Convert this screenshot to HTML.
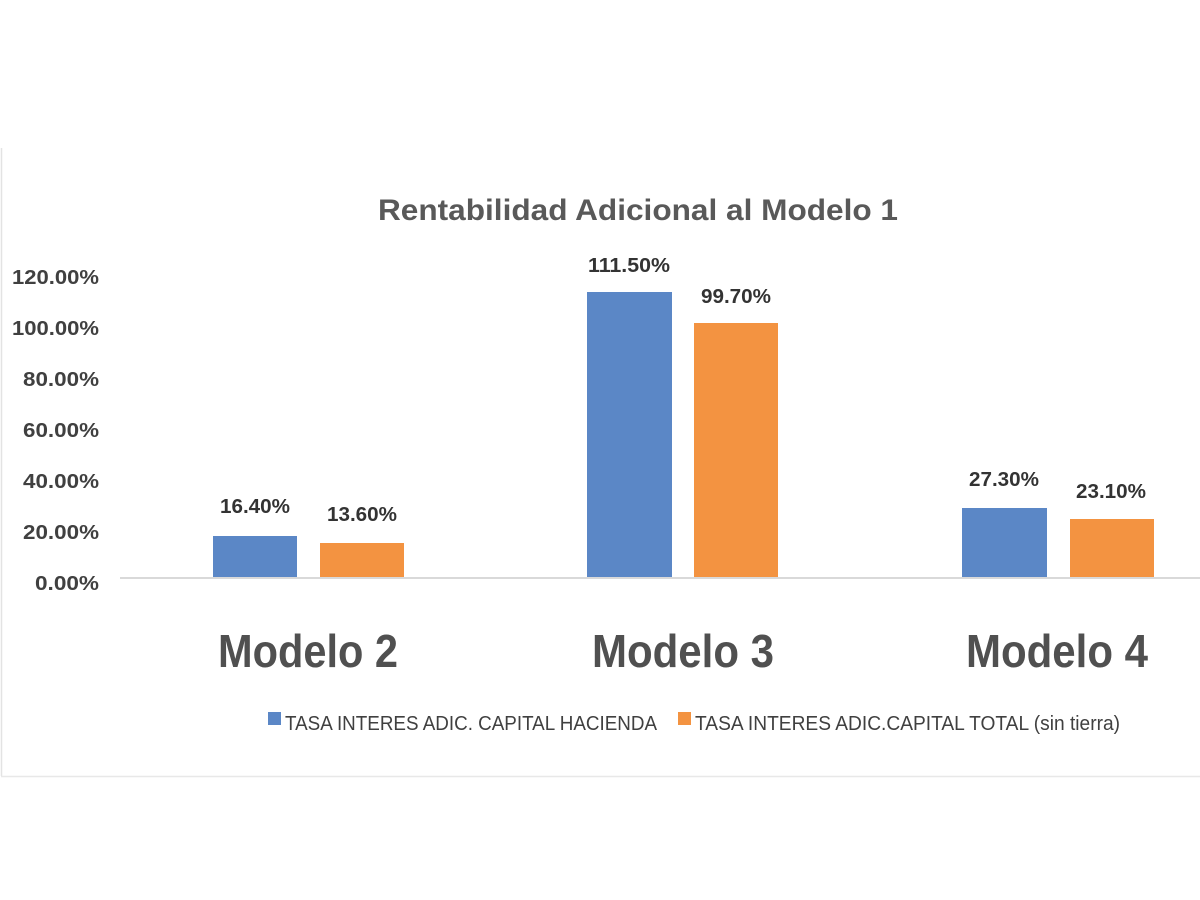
<!DOCTYPE html>
<html><head><meta charset="utf-8"><style>
html,body{margin:0;padding:0;background:#fff;}
svg{display:block;font-family:"Liberation Sans",sans-serif;}
</style></head><body>
<svg width="1200" height="900" viewBox="0 0 1200 900">
<line x1="1.5" y1="148" x2="1.5" y2="776" stroke="#e3e3e3" stroke-width="1.5"/>
<line x1="1" y1="776.5" x2="1200" y2="776.5" stroke="#e8e8e8" stroke-width="1.5"/>
<text x="638" y="220" text-anchor="middle" font-size="30" font-weight="bold" fill="#595959" textLength="520" lengthAdjust="spacingAndGlyphs">Rentabilidad Adicional al Modelo 1</text>
<g font-size="20" font-weight="bold" fill="#404040" text-anchor="end">
<text x="99" y="284" textLength="87" lengthAdjust="spacingAndGlyphs">120.00%</text>
<text x="99" y="335" textLength="87" lengthAdjust="spacingAndGlyphs">100.00%</text>
<text x="99" y="386" textLength="76" lengthAdjust="spacingAndGlyphs">80.00%</text>
<text x="99" y="437" textLength="76" lengthAdjust="spacingAndGlyphs">60.00%</text>
<text x="99" y="488" textLength="76" lengthAdjust="spacingAndGlyphs">40.00%</text>
<text x="99" y="539" textLength="76" lengthAdjust="spacingAndGlyphs">20.00%</text>
<text x="99" y="590" textLength="64" lengthAdjust="spacingAndGlyphs">0.00%</text>
</g>
<line x1="120" y1="578" x2="1200" y2="578" stroke="#d9d9d9" stroke-width="2"/>
<g fill="#5b87c6">
<rect x="213" y="536" width="84" height="41"/>
<rect x="587" y="292" width="85" height="285"/>
<rect x="962" y="508" width="85" height="69"/>
</g>
<g fill="#f39341">
<rect x="320" y="543" width="84" height="34"/>
<rect x="694" y="323" width="84" height="254"/>
<rect x="1070" y="519" width="84" height="58"/>
</g>
<g font-size="20" font-weight="bold" fill="#333" text-anchor="middle">
<text x="255" y="513" textLength="70" lengthAdjust="spacingAndGlyphs">16.40%</text>
<text x="362" y="521" textLength="70" lengthAdjust="spacingAndGlyphs">13.60%</text>
<text x="629" y="272" textLength="82" lengthAdjust="spacingAndGlyphs">111.50%</text>
<text x="736" y="303" textLength="70" lengthAdjust="spacingAndGlyphs">99.70%</text>
<text x="1004" y="486" textLength="70" lengthAdjust="spacingAndGlyphs">27.30%</text>
<text x="1111" y="498" textLength="70" lengthAdjust="spacingAndGlyphs">23.10%</text>
</g>
<g font-size="46" font-weight="bold" fill="#505050" text-anchor="middle">
<text x="308" y="667" textLength="180" lengthAdjust="spacingAndGlyphs">Modelo 2</text>
<text x="683" y="667" textLength="182" lengthAdjust="spacingAndGlyphs">Modelo 3</text>
<text x="1057" y="667" textLength="182" lengthAdjust="spacingAndGlyphs">Modelo 4</text>
</g>
<rect x="268" y="712" width="13" height="13" fill="#5b87c6"/>
<rect x="678" y="712" width="13" height="13" fill="#f39341"/>
<g font-size="20" fill="#404040">
<text x="285" y="730" textLength="372" lengthAdjust="spacingAndGlyphs">TASA INTERES ADIC. CAPITAL HACIENDA</text>
<text x="695" y="730" textLength="425" lengthAdjust="spacingAndGlyphs">TASA INTERES ADIC.CAPITAL TOTAL (sin tierra)</text>
</g>
</svg>
</body></html>
